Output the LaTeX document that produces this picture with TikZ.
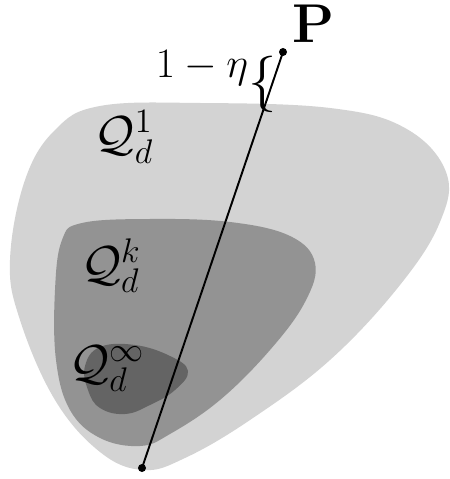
\documentclass[tikz,border=0pt]{standalone}
\definecolor{setone}{HTML}{D3D3D3}
\definecolor{setk}{HTML}{939393}
\definecolor{setinf}{HTML}{646464}
\newcommand{\biglbl}[2]{\scalebox{#1}{#2}}
\tikzset{lbl/.style={font=\huge, inner sep=0pt}}
\begin{document}
\begin{tikzpicture}[x=0.02cm, y=-0.02cm]
\useasboundingbox (0,0) rectangle (449,479);
% Draw the outer set Q^1
\fill[setone] plot[smooth cycle, tension=0.65] coordinates {(100,106) (200,103) (330,108) (405,128) (446,172) (440,222) (400,285) (330,360) (250,420) (185,458) (143,470) (100,452) (55,400) (20,320) (10,260) (25,180) (55,130)};

% Draw Q^k inside
\fill[setk] plot[smooth cycle, tension=0.65] coordinates {(82,223) (150,219) (230,222) (290,236) (315,263) (305,302) (270,350) (220,400) (170,434) (140,446) (100,438) (70,410) (56,360) (55,290) (62,240)};

% Draw Q^infinity
\fill[setinf] plot[smooth cycle, tension=0.7] coordinates {(100,347) (135,345) (170,356) (188,371) (175,390) (150,405) (125,414) (100,408) (88,390) (85,366)};

% The segment towards P
\coordinate (bot) at (142,468);
\coordinate (top) at (283,52);
\draw[line width=1.1pt] (bot) -- (top);
\fill (bot) circle (4);
\fill (top) circle (4);

% Labels
\node[lbl] (P) at (313,24) {\biglbl{1.5}{$\mathbf{P}$}};
\node[lbl] (eta) at (202,68) {\biglbl{1.15}{$1-\eta$}};
\node[lbl] (brace) at (263,84) {\biglbl{1.55}{$\Big\{$}};
\node[lbl] (q1) at (124,137) {\biglbl{1.35}{$\mathcal{Q}_d^1$}};
\node[lbl] (qk) at (111,266) {\biglbl{1.35}{$\mathcal{Q}_d^k$}};
\node[lbl] (qinf) at (107,369) {\biglbl{1.35}{$\mathcal{Q}_d^\infty$}};
\end{tikzpicture}
\end{document}
